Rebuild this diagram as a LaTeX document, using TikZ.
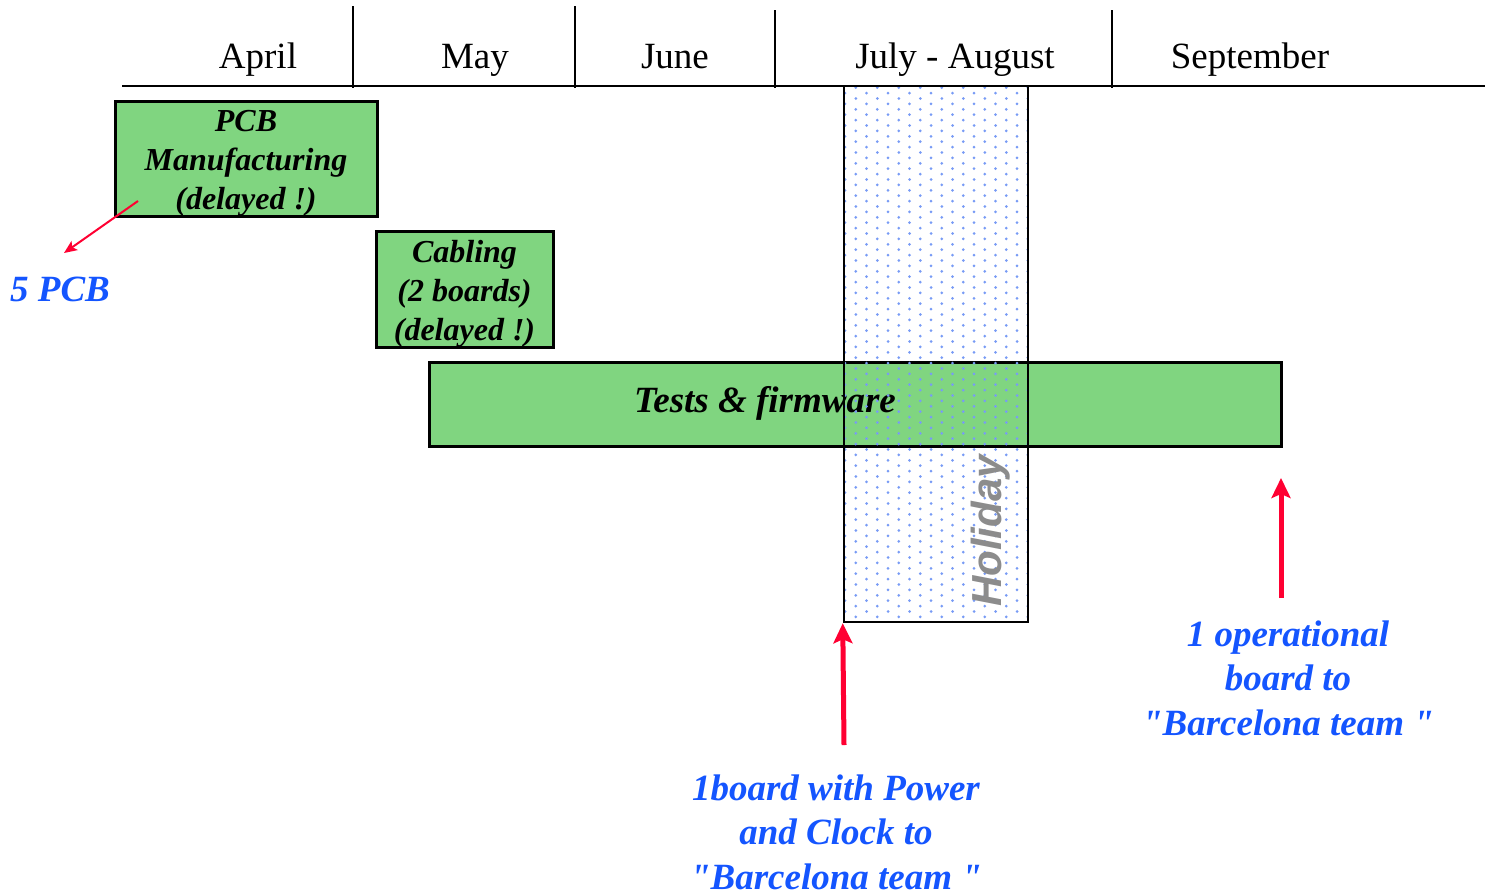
\documentclass[tikz,border=0pt]{standalone}
\usepackage{fontspec}
\setmainfont{Liberation Serif}
\newfontfamily\holidayfont{Liberation Sans}
\usetikzlibrary{positioning,arrows.meta}
\definecolor{taskgreen}{RGB}{128,213,128}
\definecolor{dotblue}{RGB}{120,155,245}
\definecolor{notered}{RGB}{255,0,50}
\definecolor{noteblue}{RGB}{20,85,255}

\begin{document}
\begin{tikzpicture}[x=1pt,y=-1pt,
  task/.style={draw=black,line width=3pt,fill=taskgreen,inner sep=0pt},
  tasktext/.style={align=center,inner sep=0pt,yshift=-5pt,font=\fontsize{32}{39}\selectfont\bfseries\itshape},
  note/.style={align=center,text=noteblue,font=\fontsize{37}{44.5}\selectfont\bfseries\itshape},
  month/.style={anchor=base,font=\fontsize{37}{40}\selectfont},
  bigarrow/.style={notered,line width=5pt,-{Stealth[length=20pt,width=19pt,inset=4pt]}},
  thinarrow/.style={notered,line width=2pt,-{Stealth[length=13pt,width=11pt,inset=3pt]}}
]
\useasboundingbox (0,0) rectangle (1485,892);

% month header
\draw[line width=1.5pt] (122,86) -- (1485,86);
\foreach \x/\top in {353/6,575/6,775/10,1112/10}
  \draw[line width=1.5pt] (\x,\top) -- (\x,88);
\foreach \x/\m in {258/April,475/May,675/June,955/July - August,1250/September}
  \node[month] (m-\x) at (\x,68) {\m};

% tasks
\node[task,minimum width=262pt,minimum height=115pt] (pcb) at (246,158.5) {};
\node[tasktext] (pcbtext) at (pcb) {PCB\\Manufacturing\\(delayed !)};
\node[task,minimum width=177pt,minimum height=116pt] (cabling) at (464.5,289) {};
\node[tasktext] (cablingtext) at (cabling) {Cabling\\(2 boards)\\(delayed !)};
\node[task,minimum width=852pt,minimum height=84pt] (tests) at (855,404) {};
\node[tasktext,yshift=3pt,font=\fontsize{37}{40}\selectfont\bfseries\itshape] (teststext) at (765,401) {Tests \& firmware};

% holiday
\begin{scope}
  \clip (844,86) rectangle (1028,622);
  \foreach \i in {0,...,17}{
    \foreach \j in {0,...,50}{
      \pgfmathsetmacro{\x}{845+10.75*\i}
      \pgfmathsetmacro{\y}{82.3+10.8*\j+5.4*mod(\i,2)}
      \fill[dotblue] (\x,\y) circle[radius=1.5pt];
    }
  }
\end{scope}
\node[draw=black,line width=2.5pt,minimum width=184pt,minimum height=536pt,inner sep=0pt] (holiday) at (936,354) {};
\node[rotate=90,text=black!45,font=\holidayfont\fontsize{42}{44}\selectfont\bfseries\itshape] (holidaylabel) at (991,531) {Holiday};

% notes
\node[note] (fivepcb) at (60,289) {5 PCB};
\node[note] (powerclock) at (836,832) {1board with Power\\and Clock to\\\textquotedbl Barcelona team \textquotedbl};
\node[note] (operational) at (1288,678) {1 operational\\board to\\\textquotedbl Barcelona team \textquotedbl};

\coordinate (pcbtail) at (138,201);
\coordinate (fivepcbtip) at (64,253);
\coordinate (powerclocktail) at (844,745);
\coordinate (operationaltail) at (1281,598);
\coordinate (operationaltip) at (1281,478);

\draw[thinarrow] (pcbtail) -- (fivepcbtip);
\draw[bigarrow] (powerclocktail) -- (holiday.south west);
\draw[bigarrow] (operationaltail) -- (operationaltip);
\end{tikzpicture}
\end{document}
